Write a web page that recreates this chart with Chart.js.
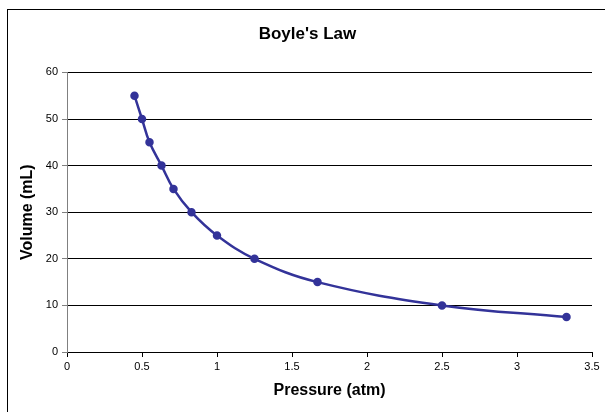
<!DOCTYPE html>
<html>
<head>
<meta charset="utf-8">
<script src="https://cdn.jsdelivr.net/npm/chart.js@4/dist/chart.umd.min.js"></script>
<style>
  html, body { margin: 0; padding: 0; background: #fff; }
  #wrap { position: relative; width: 605px; height: 412px; overflow: hidden; }
  #frame { position: absolute; left: 7px; top: 9px; width: 700px; height: 500px; border: 1.5px solid #000; }
  #Chart { position: absolute; left: 0; top: 0; }
</style>
</head>
<body>
<div id="wrap">
  <div id="frame"></div>
  <canvas id="Chart" width="605" height="412"></canvas>
</div>
<script>
// values
const pressure = [0.45, 0.5, 0.55, 0.63, 0.71, 0.83, 1.0, 1.25, 1.67, 2.5, 3.33];
const volume = [55, 50, 45, 40, 35, 30, 25, 20, 15, 10, 7.5];
const xTicks = [0, 0.5, 1, 1.5, 2, 2.5, 3, 3.5];
const yTicks = [0, 10, 20, 30, 40, 50, 60];

const points = [];
for (var i = 0; i < pressure.length; i++) {
    points.push({ x: pressure[i], y: volume[i] });
}

const navy = '#333399';
Chart.defaults.font.family = "'Liberation Sans', Arial, sans-serif";
Chart.defaults.color = '#000';

chart = new Chart(document.getElementById('Chart'), {
    type: 'scatter',
    data: {
        datasets: [{
            data: points,
            showLine: true,
            tension: 0.4,
            borderColor: navy,
            borderWidth: 2.5,
            backgroundColor: navy,
            pointRadius: 3,
            pointHoverRadius: 3
        }]
    },
    options: {
        responsive: false,
        animation: false,
        layout: { padding: { left: 23, right: 13, top: 24, bottom: 0 } },
        plugins: {
            legend: { display: false },
            tooltip: { enabled: false },
            title: {
                display: true,
                text: "Boyle's Law",
                font: { size: 17, weight: 'bold' },
                padding: { top: 0, bottom: 28 }
            }
        },
        scales: {
            x: {
                type: 'linear',
                min: 0,
                max: 3.5,
                afterBuildTicks: function (s) { s.ticks = xTicks.map(function (v) { return { value: v }; }); },
                afterFit: function (s) { s.height = 60; },
                ticks: {
                    font: { size: 11 },
                    padding: 3,
                    maxRotation: 0,
                    callback: function (v) { return String(v); }
                },
                grid: { drawOnChartArea: false, tickLength: 5, color: '#000' },
                border: { color: '#000', width: 1 },
                title: {
                    display: true,
                    text: 'Pressure (atm)',
                    font: { size: 16, weight: 'bold' },
                    padding: { top: 4, bottom: 12 }
                }
            },
            y: {
                min: 0,
                max: 60,
                afterBuildTicks: function (s) { s.ticks = yTicks.map(function (v) { return { value: v }; }); },
                afterFit: function (s) { s.width = 44; },
                ticks: { font: { size: 11 }, padding: 4 },
                grid: { color: '#000', tickColor: '#808080', tickLength: 5 },
                border: { color: '#808080', width: 1 },
                title: {
                    display: true,
                    text: 'Volume (mL)',
                    font: { size: 16, weight: 'bold' },
                    padding: { top: -4.6, bottom: 4 }
                }
            }
        }
    }
});
</script>
</body>
</html>
